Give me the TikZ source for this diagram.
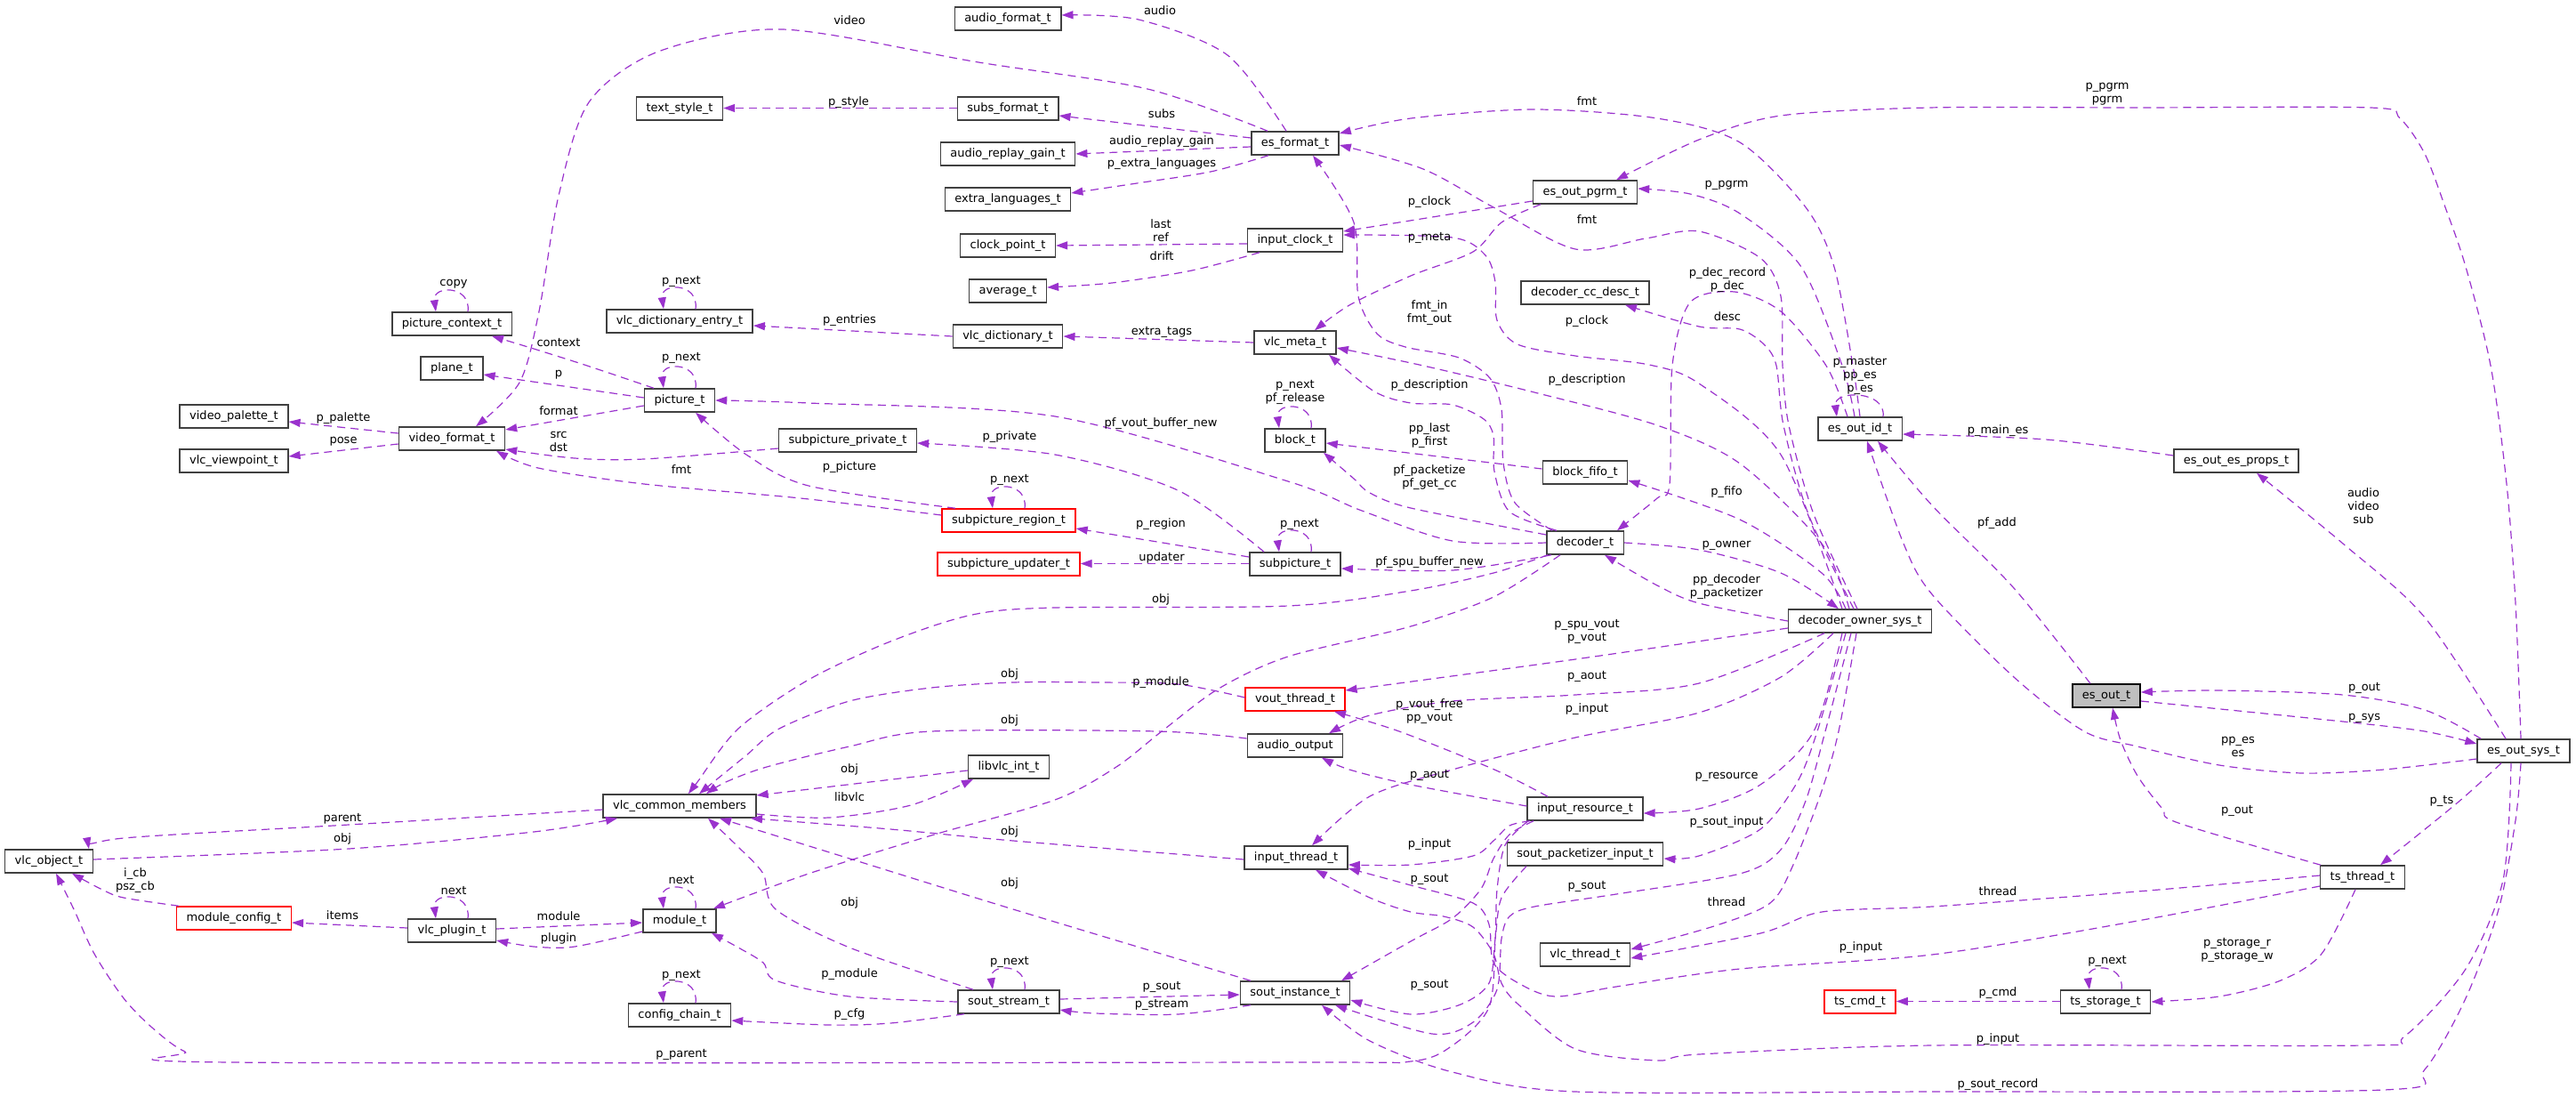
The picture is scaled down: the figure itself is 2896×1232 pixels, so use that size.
\documentclass[tikz,border=0pt]{standalone}
\usepackage{fontspec}
\setmainfont{DejaVu Sans}
\usetikzlibrary{arrows.meta}
\definecolor{edgecol}{HTML}{9A32CD}
\definecolor{boxline}{HTML}{404040}
\definecolor{rootfill}{HTML}{BFBFBF}
\newcommand{\fs}{\fontsize{13pt}{15pt}\selectfont}
% member pointing back to its own type
\newcommand{\selfloop}[2][18]{\draw[dep] ([xshift=#1pt]#2.north) .. controls +(4,-30) and +(-4,-30) .. ([xshift=-#1pt]#2.north);}

\begin{document}
\begin{tikzpicture}[x=1pt, y=-1pt,
  cls/.style={draw=boxline, line width=1.5pt, fill=white, minimum height=26pt,
    inner xsep=11pt, inner ysep=0pt, text height=9.5pt, text depth=3pt, font=\fs},
  trunc/.style={cls, draw=red},
  root/.style={cls, draw=black, fill=rootfill},
  dep/.style={draw=edgecol, line width=1.2pt, dash pattern=on 9pt off 6pt,
    -{Triangle[length=13pt,width=9pt]}},
  lbl/.style={inner sep=0pt, align=center, font=\fs}]
\useasboundingbox (0,0) rectangle (2896,1232);

% classes
\node[cls] (audioformat) at (1133,21) {audio\_format\_t};
\node[cls] (textstyle) at (764,122) {text\_style\_t};
\node[cls] (subsformat) at (1133,122) {subs\_format\_t};
\node[cls] (esformat) at (1456,161) {es\_format\_t};
\node[cls] (replaygain) at (1133,173) {audio\_replay\_gain\_t};
\node[cls] (extralang) at (1133,224) {extra\_languages\_t};
\node[cls] (esoutpgrm) at (1782,216) {es\_out\_pgrm\_t};
\node[cls] (clockpoint) at (1133,276) {clock\_point\_t};
\node[cls] (inputclock) at (1456,270) {input\_clock\_t};
\node[cls] (average) at (1133,327) {average\_t};
\node[cls] (ccdesc) at (1782,329) {decoder\_cc\_desc\_t};
\node[cls] (piccontext) at (508,364) {picture\_context\_t};
\node[cls] (dictentry) at (764,361) {vlc\_dictionary\_entry\_t};
\node[cls] (dict) at (1133,378) {vlc\_dictionary\_t};
\node[cls] (meta) at (1456,385) {vlc\_meta\_t};
\node[cls] (plane) at (508,414) {plane\_t};
\node[cls] (picture) at (764,450) {picture\_t};
\node[cls] (palette) at (263,468) {video\_palette\_t};
\node[cls] (videoformat) at (508,493) {video\_format\_t};
\node[cls] (viewpoint) at (263,518) {vlc\_viewpoint\_t};
\node[cls] (subprivate) at (953,495) {subpicture\_private\_t};
\node[cls] (block) at (1456,495) {block\_t};
\node[cls] (esoutid) at (2091,482) {es\_out\_id\_t};
\node[cls] (esprops) at (2514,518) {es\_out\_es\_props\_t};
\node[cls] (blockfifo) at (1782,531) {block\_fifo\_t};
\node[trunc] (subregion) at (1134,585) {subpicture\_region\_t};
\node[cls] (decoder) at (1782,610) {decoder\_t};
\node[trunc] (subupdater) at (1134,634) {subpicture\_updater\_t};
\node[cls] (subpicture) at (1456,634) {subpicture\_t};
\node[cls] (ownersys) at (2091,698) {decoder\_owner\_sys\_t};
\node[trunc] (vout) at (1456,786) {vout\_thread\_t};
\node[root] (esout) at (2368,782) {es\_out\_t};
\node[cls] (aout) at (1456,838) {audio\_output};
\node[cls] (esoutsys) at (2837,844) {es\_out\_sys\_t};
\node[cls] (libvlc) at (1134,862) {libvlc\_int\_t};
\node[cls] (common) at (764,906) {vlc\_common\_members};
\node[cls] (resource) at (1782,909) {input\_resource\_t};
\node[cls] (vlcobject) at (55,968) {vlc\_object\_t};
\node[cls] (inputthread) at (1457,964) {input\_thread\_t};
\node[cls] (packetizer) at (1782,960) {sout\_packetizer\_input\_t};
\node[cls] (tsthread) at (2656,986) {ts\_thread\_t};
\node[trunc] (moduleconfig) at (263,1032) {module\_config\_t};
\node[cls] (plugin) at (508,1046) {vlc\_plugin\_t};
\node[cls] (module) at (764,1035) {module\_t};
\node[cls] (vlcthread) at (1782,1073) {vlc\_thread\_t};
\node[cls] (configchain) at (764,1141) {config\_chain\_t};
\node[cls] (soutstream) at (1134,1126) {sout\_stream\_t};
\node[cls] (soutinst) at (1456,1116) {sout\_instance\_t};
\node[trunc] (tscmd) at (2091,1126) {ts\_cmd\_t};
\node[cls] (tsstorage) at (2367,1126) {ts\_storage\_t};

% self references
\selfloop{piccontext}
\selfloop{dictentry}
\selfloop{picture}
\selfloop{block}
\selfloop{subregion}
\selfloop{subpicture}
\selfloop[26]{esoutid}
\selfloop{plugin}
\selfloop{module}
\selfloop{configchain}
\selfloop{soutstream}
\selfloop{tsstorage}

% es_format_t
\draw[dep] plot[smooth] coordinates {([xshift=-31pt]esformat.north) (1290,100) (1100,70) (880,33) (740,58) (662,115) (628,220) (606,350) (584,430) ([xshift=27pt]videoformat.north)};
\draw[dep] plot[smooth] coordinates {([xshift=-10pt]esformat.north) (1380,62) (1280,22) ([yshift=4pt]audioformat.east)};
\draw[dep] ([yshift=6pt]esformat.west) -- ([yshift=-8pt]subsformat.east);
\draw[dep] ([yshift=-4pt]esformat.west) -- (replaygain.east);
\draw[dep] plot[smooth] coordinates {([xshift=-30pt]esformat.south) (1361,193) (1278,206) ([yshift=7pt]extralang.east)};
\draw[dep] ([yshift=0.5pt]subsformat.west) -- ([yshift=0.5pt]textstyle.east);

% clocks and dictionaries
\draw[dep] ([yshift=-4pt]inputclock.west) -- (clockpoint.east);
\draw[dep] plot[smooth] coordinates {([xshift=-40pt]inputclock.south) (1340,304) (1250,318) ([yshift=4pt]average.east)};
\draw[dep] (dict.west) -- ([yshift=-5pt]dictentry.east);
\draw[dep] (meta.west) -- (dict.east);

% pictures
\draw[dep] plot[smooth] coordinates {([xshift=-29pt]picture.north) (660,411) (600,392) ([xshift=45pt]piccontext.south)};
\draw[dep] ([yshift=3pt]picture.west) -- ([yshift=-7pt]plane.east);
\draw[dep] ([yshift=-6pt]picture.west) -- ([yshift=10pt]videoformat.east);
\draw[dep] ([yshift=6pt]videoformat.west) -- ([yshift=-6pt]palette.east);
\draw[dep] ([yshift=-6pt]videoformat.west) -- ([yshift=5pt]viewpoint.east);
\draw[dep] plot[smooth] coordinates {([yshift=-9pt]subprivate.west) (724,516) (646,515) ([yshift=-12pt]videoformat.east)};
\draw[dep] plot[smooth] coordinates {([yshift=6pt]subregion.west) (900,560) (724,544) (605,526) ([xshift=50pt]videoformat.south)};
\draw[dep] plot[smooth] coordinates {([xshift=-60pt]subregion.north) (909,546) (839,511) ([xshift=18pt]picture.south)};
\draw[dep] plot[smooth] coordinates {([xshift=-35pt]subpicture.north) (1324,551) (1186,511) ([yshift=-3pt]subprivate.east)};
\draw[dep] ([yshift=8pt]subpicture.west) -- ([yshift=-9pt]subregion.east);
\draw[dep] ([yshift=0.5pt]subpicture.west) -- ([yshift=0.5pt]subupdater.east);

% decoder_t
\draw[dep] plot[smooth] coordinates {(decoder.west) (1633,608) (1531,574) (1448,541) (1186,468) (909,453) (picture.east)};
\draw[dep] plot[smooth] coordinates {([yshift=9pt]decoder.west) (1586,571) (1540,554) (1522,538) ([xshift=32pt]block.south)};
\draw[dep] plot[smooth] coordinates {([xshift=-38pt]decoder.south) (1633,641) ([yshift=-5pt]subpicture.east)};
\draw[dep] plot[smooth] coordinates {([xshift=-37pt]decoder.north) (1703,565) (1690,520) (1688,460) (1675,425) (1640,402) (1580,390) (1548,375) (1527,333) (1522,250) ([xshift=20pt]esformat.south)};
\draw[dep] plot[smooth] coordinates {([xshift=-32pt]decoder.north) (1697,575) (1680,530) (1679,490) (1668,471) (1633,455) (1586,453) (1545,440) ([xshift=38pt]meta.south)};
\draw[dep] plot[smooth] coordinates {(decoder.east) (1910,618) (2002,644) ([xshift=-24pt]ownersys.north)};
\draw[dep] plot[smooth] coordinates {([xshift=-42pt]decoder.south) (1679,644) (1586,664) (1448,681) (1186,683) (1093,691) (1001,721) (909,764) (830,819) (784,879) ([xshift=10pt]common.north)};
\draw[dep] plot[smooth] coordinates {([xshift=-28pt]decoder.south) (1679,671) (1586,704) (1448,738) (1370,774) (1306,822) (1255,862) (1186,899) (1047,939) (909,982) ([xshift=38pt]module.north)};
\draw[dep] ([yshift=4pt]blockfifo.west) -- ([yshift=-3pt]block.east);

% es_out_pgrm_t and es_out_id_t
\draw[dep] ([yshift=-10pt]esoutpgrm.west) -- ([yshift=10pt]inputclock.east);
\draw[dep] plot[smooth] coordinates {([xshift=-50pt]esoutpgrm.south) (1688,250) (1656,283) (1586,310) (1517,343) ([xshift=22pt]meta.north)};
\draw[dep] plot[smooth] coordinates {([xshift=-6pt]esoutid.north) (2071,411) (2025,300) (1956,240) (1900,218) ([yshift=4pt]esoutpgrm.east)};
\draw[dep] plot[smooth] coordinates {(esoutid.north) (2083,411) (2062,300) (2030,233) (1956,160) (1863,133) (1725,123) (1586,133) ([yshift=11pt]esformat.east)};
\draw[dep] plot[smooth] coordinates {([xshift=-14pt]esoutid.north) (2053,411) (2002,350) (1950,328) (1900,340) (1880,411) (1877,544) (1863,560) ([xshift=36pt]decoder.north)};

% decoder_owner_sys_t
\draw[dep] plot[smooth] coordinates {([xshift=-3pt]ownersys.north) (2039,578) (2011,478) (2004,411) (2002,333) (1979,290) (1910,260) (1850,268) (1771,280) (1679,233) (1600,190) ([yshift=-2pt]esformat.east)};
\draw[dep] plot[smooth] coordinates {([xshift=-7pt]ownersys.north) (2033,578) (2005,478) (1997,411) (1983,387) (1956,370) (1910,367) ([xshift=45pt]ccdesc.south)};
\draw[dep] plot[smooth] coordinates {([xshift=-20pt]ownersys.north) (2002,511) (1910,431) (1854,410) (1771,400) (1706,387) (1683,360) (1681,317) (1670,287) (1633,267) ([yshift=6pt]inputclock.east)};
\draw[dep] plot[smooth] coordinates {([xshift=-12pt]ownersys.north) (2048,611) (1956,521) (1863,478) (1725,441) (1600,411) ([yshift=-6pt]meta.east)};
\draw[dep] plot[smooth] coordinates {([xshift=-16pt]ownersys.north) (2048,644) (1956,584) ([yshift=-9pt]blockfifo.east)};
\draw[dep] plot[smooth] coordinates {(ownersys.west) (1910,678) (1863,658) ([xshift=22pt]decoder.south)};
\draw[dep] plot[smooth] coordinates {([yshift=-8pt]ownersys.west) (1771,741) ([yshift=10pt]vout.east)};
\draw[dep] plot[smooth] coordinates {([xshift=-40pt]ownersys.south) (1910,768) (1771,781) (1633,788) (1540,804) ([xshift=38pt]aout.north)};
\draw[dep] plot[smooth] coordinates {([xshift=-30pt]ownersys.south) (2002,761) (1910,801) (1771,829) (1633,865) (1540,895) ([xshift=18pt]inputthread.north)};
\draw[dep] plot[smooth] coordinates {([xshift=-20pt]ownersys.south) (2039,822) (1979,882) (1910,909) ([yshift=-5pt]resource.east)};
\draw[dep] plot[smooth] coordinates {([xshift=-16pt]ownersys.south) (2043,822) (2020,880) (1979,932) (1910,962) ([yshift=-5pt]packetizer.east)};
\draw[dep] plot[smooth] coordinates {([xshift=-4pt]ownersys.south) (2067,822) (2048,889) (2016,972) (1990,1015) (1930,1040) ([yshift=6pt]vlcthread.east)};
\draw[dep] plot[smooth] coordinates {([xshift=-10pt]ownersys.south) (2052,822) (2030,900) (2002,955) (1956,982) (1817,1005) (1725,1019) (1697,1030) (1688,1055) (1683,1112) (1656,1149) (1610,1162) ([xshift=45pt]soutinst.south)};

% input_resource_t
\draw[dep] plot[smooth] coordinates {([xshift=-42pt]resource.north) (1680,865) (1573,822) ([xshift=44pt]vout.south)};
\draw[dep] plot[smooth] coordinates {([yshift=3pt]resource.west) (1586,882) (1517,865) ([xshift=30pt]aout.south)};
\draw[dep] plot[smooth] coordinates {([xshift=-62pt]resource.south) (1697,928) (1679,945) (1656,962) (1586,972) ([yshift=-8pt]inputthread.east)};
\draw[dep] plot[smooth] coordinates {([xshift=-58pt]resource.south) (1697,938) (1679,965) (1665,999) (1633,1032) (1586,1058) ([xshift=52pt]soutinst.north)};
\draw[dep] plot[smooth] coordinates {([xshift=-64pt]resource.south) (1692,950) (1683,1000) (1681,1055) (1674,1132) (1633,1175) (1586,1193) (1448,1194) (260,1194) (208,1182) (171,1155) (139,1122) (106,1072) (83,1022) ([xshift=8pt]vlcobject.south)};
\draw[dep] plot[smooth] coordinates {([xshift=-66pt]packetizer.south) (1688,1009) (1681,1055) (1674,1105) (1642,1129) (1586,1140) ([yshift=-8pt]soutinst.east)};

% vlc_common_members
\draw[dep] plot[smooth] coordinates {([yshift=-4pt]common.west) (392,927) (139,942) ([xshift=45pt]vlcobject.north)};
\draw[dep] plot[smooth] coordinates {([yshift=2pt]vlcobject.east) (392,954) (600,935) ([xshift=-70pt]common.south)};
\draw[dep] plot[smooth] coordinates {([yshift=-2pt]inputthread.west) (1139,945) (1001,932) ([xshift=80pt]common.south)};
\draw[dep] plot[smooth] coordinates {([xshift=-50pt]soutinst.north) (1139,1022) (955,965) ([xshift=45pt]common.south)};
\draw[dep] plot[smooth] coordinates {([xshift=-40pt]soutstream.north) (955,1065) (872,1022) (858,982) (830,952) ([xshift=32pt]common.south)};
\draw[dep] ([yshift=-4pt]libvlc.west) -- ([yshift=12pt]common.east);
\draw[dep] plot[smooth] coordinates {([yshift=-9pt]common.east) (932,919) (1024,905) ([xshift=-40pt]libvlc.south)};
\draw[dep] plot[smooth] coordinates {([yshift=2pt]vout.west) (1324,769) (1232,767) (1139,767) (1047,773) (955,788) (876,819) (839,849) (807,875) ([xshift=22pt]common.north)};
\draw[dep] plot[smooth] coordinates {([yshift=8pt]aout.west) (1301,822) (1047,822) (955,839) (862,862) (816,879) ([xshift=30pt]common.north)};

% modules and streams
\draw[dep] plot[smooth] coordinates {([xshift=-62pt]moduleconfig.north) (139,1009) (115,1000) ([xshift=26pt]vlcobject.south)};
\draw[dep] ([yshift=3pt]plugin.west) -- ([yshift=-5pt]moduleconfig.east);
\draw[dep] ([yshift=2pt]plugin.east) -- ([yshift=-2pt]module.west);
\draw[dep] plot[smooth] coordinates {([yshift=-12pt]module.west) (646,1064) (600,1064) ([yshift=-11pt]plugin.east)};
\draw[dep] plot[smooth] coordinates {(soutstream.west) (955,1120) (872,1102) (858,1082) (830,1065) ([xshift=36pt]module.south)};
\draw[dep] plot[smooth] coordinates {([xshift=-50pt]soutstream.south) (1001,1150) (932,1152) ([yshift=-6pt]configchain.east)};
\draw[dep] ([yshift=3pt]soutstream.east) -- ([yshift=-2pt]soutinst.west);
\draw[dep] plot[smooth] coordinates {([xshift=-50pt]soutinst.south) (1324,1140) (1232,1139) ([yshift=-9pt]soutstream.east)};

% es_out_t, es_out_sys_t, ts_thread_t
\draw[dep] plot[smooth] coordinates {([yshift=6pt]esprops.west) (2300,494) ([yshift=-6pt]esoutid.east)};
\draw[dep] plot[smooth] coordinates {([xshift=-18pt]esout.north) (2264,661) (2172,568) ([xshift=20pt]esoutid.south)};
\draw[dep] plot[smooth] coordinates {([yshift=-6pt]esout.east) (2634,811) (2726,822) ([yshift=8pt]esoutsys.west)};
\draw[dep] plot[smooth] coordinates {([xshift=-48pt]esoutsys.north) (2726,798) (2634,781) (2495,776) ([yshift=4pt]esout.east)};
\draw[dep] plot[smooth] coordinates {([yshift=-9pt]esoutsys.west) (2680,865) (2588,869) (2495,860) (2403,839) (2343,822) (2264,761) (2172,668) (2140,611) ([xshift=8pt]esoutid.south)};
\draw[dep] plot[smooth] coordinates {([xshift=-20pt]esoutsys.north) (2726,694) (2634,611) ([xshift=23pt]esprops.south)};
\draw[dep] plot[smooth] coordinates {([xshift=-3pt]esoutsys.north) (2828,678) (2818,544) (2800,411) (2772,300) (2749,233) (2726,173) (2698,133) (2665,121) (2400,121) (2168,121) (2002,130) (1910,157) ([xshift=35pt]esoutpgrm.north)};
\draw[dep] plot[smooth] coordinates {([xshift=-25pt]esoutsys.south) (2763,902) ([xshift=20pt]tsthread.north)};
\draw[dep] plot[smooth] coordinates {([xshift=-14pt]esoutsys.south) (2814,989) (2772,1089) (2703,1165) (2657,1175) (2172,1175) (1910,1185) (1863,1192) (1771,1179) (1707,1129) (1688,1105) (1679,1072) (1656,1042) (1623,1030) (1586,1025) (1540,1009) ([xshift=22pt]inputthread.south)};
\draw[dep] plot[smooth] coordinates {([xshift=-3pt]esoutsys.south) (2828,922) (2809,1022) (2772,1122) (2726,1202) (2680,1225) (2172,1227) (1771,1227) (1633,1205) (1540,1170) ([xshift=30pt]soutinst.south)};
\draw[dep] plot[smooth] coordinates {([xshift=-47pt]tsthread.north) (2449,925) (2431,909) (2403,872) (2384,832) ([xshift=7pt]esout.south)};
\draw[dep] plot[smooth] coordinates {([yshift=2pt]tsthread.west) (2403,1002) (2172,1019) (2048,1025) (1979,1049) ([yshift=-4pt]vlcthread.east)};
\draw[dep] plot[smooth] coordinates {([yshift=-10pt]tsthread.west) (2403,1035) (2172,1073) (1956,1089) (1817,1109) (1748,1120) (1707,1105) (1679,1082) (1674,1039) (1656,1015) (1586,995) ([yshift=-12pt]inputthread.east)};
\draw[dep] plot[smooth] coordinates {([xshift=-8pt]tsthread.south) (2610,1072) (2564,1102) (2495,1120) (tsstorage.east)};
\draw[dep] ([yshift=0.5pt]tsstorage.west) -- ([yshift=0.5pt]tscmd.east);

% edge labels
\node[lbl] (t1) at (955,23) {video};
\node[lbl] (t2) at (1304,12) {audio};
\node[lbl] (t3) at (954,115) {p\_style};
\node[lbl] (t4) at (1306,128) {subs};
\node[lbl] (t5) at (1306,159) {audio\_replay\_gain};
\node[lbl] (t6) at (1306,184) {p\_extra\_languages};
\node[lbl] (t7) at (1784,114) {fmt};
\node[lbl] (t8) at (2369,106) {p\_pgrm\\pgrm};
\node[lbl] (t9) at (1607,227) {p\_clock};
\node[lbl] (t10) at (1941,208) {p\_pgrm};
\node[lbl] (t11) at (1784,247) {fmt};
\node[lbl] (t12) at (1305,259) {last\\ref};
\node[lbl] (t13) at (1306,288) {drift};
\node[lbl] (t14) at (1607,267) {p\_meta};
\node[lbl] (t15) at (1942,315) {p\_dec\_record\\p\_dec};
\node[lbl] (t16) at (1942,356) {desc};
\node[lbl] (t17) at (1784,361) {p\_clock};
\node[lbl] (t18) at (1607,352) {fmt\_in\\fmt\_out};
\node[lbl] (t19) at (510,319) {copy};
\node[lbl] (t20) at (766,316) {p\_next};
\node[lbl] (t21) at (955,360) {p\_entries};
\node[lbl] (t22) at (1306,373) {extra\_tags};
\node[lbl] (t23) at (628,385) {context};
\node[lbl] (t24) at (628,421) {p};
\node[lbl] (t25) at (766,402) {p\_next};
\node[lbl] (t26) at (2091,422) {p\_master\\pp\_es\\p\_es};
\node[lbl] (t27) at (1607,433) {p\_description};
\node[lbl] (t28) at (1784,427) {p\_description};
\node[lbl] (t29) at (1456,441) {p\_next\\pf\_release};
\node[lbl] (t30) at (386,470) {p\_palette};
\node[lbl] (t31) at (628,462) {format};
\node[lbl] (t32) at (1305,476) {pf\_vout\_buffer\_new};
\node[lbl] (t33) at (2246,484) {p\_main\_es};
\node[lbl] (t34) at (1607,490) {pp\_last\\p\_first};
\node[lbl] (t35) at (1135,491) {p\_private};
\node[lbl] (t36) at (386,496) {pose};
\node[lbl] (t37) at (628,496) {src\\dst};
\node[lbl] (t38) at (955,525) {p\_picture};
\node[lbl] (t39) at (766,528) {fmt};
\node[lbl] (t40) at (1607,537) {pf\_packetize\\pf\_get\_cc};
\node[lbl] (t41) at (1135,539) {p\_next};
\node[lbl] (t42) at (1941,553) {p\_fifo};
\node[lbl] (t43) at (2657,569) {audio\\video\\sub};
\node[lbl] (t44) at (2245,588) {pf\_add};
\node[lbl] (t45) at (1305,589) {p\_region};
\node[lbl] (t46) at (1461,589) {p\_next};
\node[lbl] (t47) at (1941,613) {p\_owner};
\node[lbl] (t48) at (1306,627) {updater};
\node[lbl] (t49) at (1607,632) {pf\_spu\_buffer\_new};
\node[lbl] (t50) at (1941,660) {pp\_decoder\\p\_packetizer};
\node[lbl] (t51) at (1305,674) {obj};
\node[lbl] (t52) at (1784,710) {p\_spu\_vout\\p\_vout};
\node[lbl] (t53) at (1135,758) {obj};
\node[lbl] (t54) at (1305,767) {p\_module};
\node[lbl] (t55) at (1784,760) {p\_aout};
\node[lbl] (t56) at (2658,773) {p\_out};
\node[lbl] (t57) at (1607,800) {p\_vout\_free\\pp\_vout};
\node[lbl] (t58) at (1784,797) {p\_input};
\node[lbl] (t59) at (2658,807) {p\_sys};
\node[lbl] (t60) at (1135,810) {obj};
\node[lbl] (t61) at (2516,839) {pp\_es\\es};
\node[lbl] (t62) at (955,865) {obj};
\node[lbl] (t63) at (1607,871) {p\_aout};
\node[lbl] (t64) at (1941,873) {p\_resource};
\node[lbl] (t65) at (955,896) {libvlc};
\node[lbl] (t66) at (2745,900) {p\_ts};
\node[lbl] (t67) at (2515,911) {p\_out};
\node[lbl] (t68) at (385,920) {parent};
\node[lbl] (t69) at (1941,924) {p\_sout\_input};
\node[lbl] (t70) at (1135,935) {obj};
\node[lbl] (t71) at (385,943) {obj};
\node[lbl] (t72) at (1607,949) {p\_input};
\node[lbl] (t73) at (152,990) {i\_cb\\psz\_cb};
\node[lbl] (t74) at (766,989) {next};
\node[lbl] (t75) at (1135,993) {obj};
\node[lbl] (t76) at (1607,988) {p\_sout};
\node[lbl] (t77) at (1784,996) {p\_sout};
\node[lbl] (t78) at (510,1001) {next};
\node[lbl] (t79) at (2246,1002) {thread};
\node[lbl] (t80) at (1941,1014) {thread};
\node[lbl] (t81) at (955,1015) {obj};
\node[lbl] (t82) at (385,1029) {items};
\node[lbl] (t83) at (628,1030) {module};
\node[lbl] (t84) at (628,1055) {plugin};
\node[lbl] (t85) at (2092,1065) {p\_input};
\node[lbl] (t86) at (2515,1068) {p\_storage\_r\\p\_storage\_w};
\node[lbl] (t87) at (2369,1080) {p\_next};
\node[lbl] (t88) at (1135,1081) {p\_next};
\node[lbl] (t89) at (955,1095) {p\_module};
\node[lbl] (t90) at (766,1096) {p\_next};
\node[lbl] (t91) at (1607,1107) {p\_sout};
\node[lbl] (t92) at (1306,1109) {p\_sout};
\node[lbl] (t93) at (2246,1116) {p\_cmd};
\node[lbl] (t94) at (1306,1129) {p\_stream};
\node[lbl] (t95) at (955,1140) {p\_cfg};
\node[lbl] (t96) at (2246,1168) {p\_input};
\node[lbl] (t97) at (766,1185) {p\_parent};
\node[lbl] (t98) at (2246,1219) {p\_sout\_record};
\end{tikzpicture}
\end{document}
